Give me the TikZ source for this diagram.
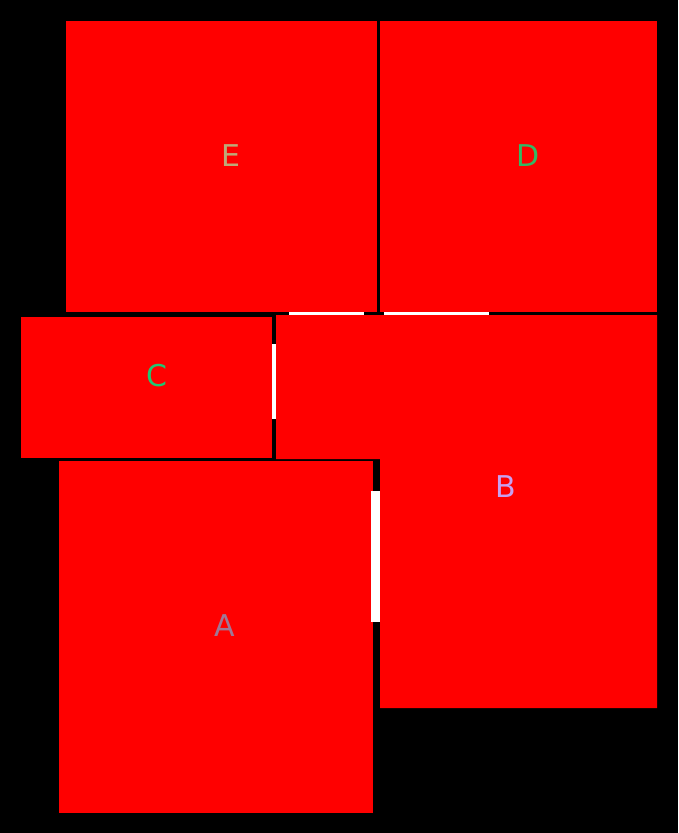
\documentclass[tikz,border=0pt]{standalone}
\usepackage{fontspec}
\setmainfont{DejaVu Sans}
\definecolor{labE}{RGB}{190,170,120}
\definecolor{labD}{RGB}{50,185,100}
\definecolor{labC}{RGB}{30,200,115}
\definecolor{labB}{RGB}{200,160,240}
\definecolor{labA}{RGB}{160,120,150}
\begin{document}
\begin{tikzpicture}[x=1pt,y=-1pt,
  room/.style={fill=red,draw=none},
  wall/.style={fill=white,draw=none},
  lab/.style={font=\fontsize{30}{30}\selectfont,inner sep=0pt,anchor=center}]
\fill[black] (0,0) rectangle (678,833);
\useasboundingbox (0,0) rectangle (678,833);
% rooms
\fill[room] (66,21) rectangle (377,312);   % E
\fill[room] (380,21) rectangle (657,312);  % D
\fill[room] (21,317) rectangle (272,458);  % C
\fill[room] (276,315) -- (657,315) -- (657,708) -- (380,708) -- (380,459) -- (276,459) -- cycle; % B
\fill[room] (59,461) rectangle (373,813);  % A
% shared-wall markers
\fill[wall] (289,312) rectangle (364,315);
\fill[wall] (384,312) rectangle (489,315);
\fill[wall] (272,344) rectangle (276,419);
\fill[wall] (371,491) rectangle (380,622);
% labels
\node[lab,text=labE] (E) at (231,156) {E};
\node[lab,text=labD] (D) at (528,156) {D};
\node[lab,text=labC] (C) at (157,376) {C};
\node[lab,text=labB] (B) at (506,487) {B};
\node[lab,text=labA] (A) at (225,626) {A};
\end{tikzpicture}
\end{document}
